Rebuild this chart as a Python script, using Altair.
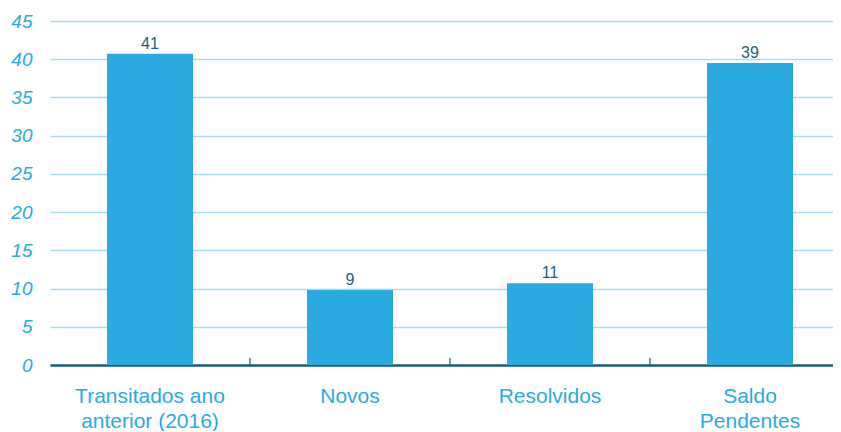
import altair as alt
import pandas as pd

categories = ["Transitados ano|anterior (2016)", "Novos", "Resolvidos", "Saldo|Pendentes"]
bar_values = [40.7, 9.8, 10.7, 39.5]
value_labels = ["41", "9", "11", "39"]
y_ticks = [0, 5, 10, 15, 20, 25, 30, 35, 40, 45]

df = pd.DataFrame({"cat": categories, "val": bar_values, "lab": value_labels})
df["order"] = range(len(df))

BLUE = "#29aae1"
DARK = "#1b5e7e"
GRID = "#a9dbef"
FONT = "Liberation Sans"

band_scale = alt.Scale(paddingInner=0.57, paddingOuter=0.285, range=[0, 800])
y_scale = alt.Scale(domain=[0, 45], nice=False)
y_axis = alt.Axis(
    title=None,
    values=y_ticks,
    labelColor=BLUE,
    labelFont=FONT,
    labelFontSize=19,
    labelFontStyle="italic",
    labelPadding=18,
    ticks=False,
    domain=False,
    gridColor=GRID,
    gridWidth=1.3,
)

bars = alt.Chart(df).mark_bar(color=BLUE).encode(
    x=alt.X(
        "cat:N",
        sort=categories,
        scale=band_scale,
        axis=alt.Axis(
            title=None,
            labelAngle=0,
            labelColor=BLUE,
            labelFont=FONT,
            labelFontSize=21,
            labelLineHeight=25,
            labelPadding=20,
            labelExpr="split(datum.label, '|')",
            ticks=False,
            domainColor=DARK,
            domainWidth=2.5,
            grid=False,
        ),
    ),
    y=alt.Y("val:Q", scale=y_scale, axis=y_axis),
)

texts = alt.Chart(df).mark_text(
    baseline="alphabetic", dy=-5, color=DARK, font=FONT, fontSize=16
).encode(
    x=alt.X("cat:N", sort=categories, scale=band_scale, axis=None),
    y=alt.Y("val:Q", scale=y_scale, axis=y_axis),
    text="lab:N",
)

seps = alt.Chart(df).mark_rule(color=DARK, strokeWidth=1.2).encode(
    x=alt.X(
        "cat:N",
        sort=categories,
        bandPosition=0,
        scale=alt.Scale(domain=categories, paddingInner=0, paddingOuter=0, range=[0, 800]),
        axis=None,
    ),
    y=alt.value(337),
    y2=alt.value(344),
    strokeOpacity=alt.condition("datum.order > 0", alt.value(1), alt.value(0)),
)

chart = (
    alt.layer(bars, texts, seps)
    .resolve_scale(x="independent")
    .properties(
        width=791,
        height=344,
        autosize=alt.AutoSizeParams(type="none"),
        padding={"left": 42, "top": 13, "right": -8, "bottom": 66},
    )
    .configure_view(stroke=None)
)

chart.save("out.html", embed_options={"renderer": "svg", "actions": False})
